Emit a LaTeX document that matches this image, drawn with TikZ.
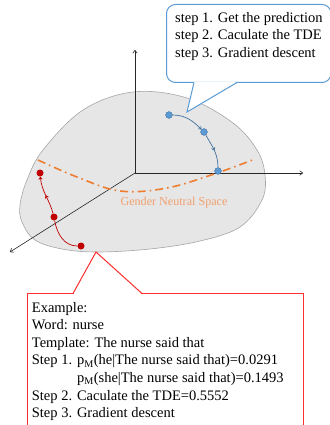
\documentclass[tikz,border=0pt]{standalone}
\usepackage{fontspec}
\setmainfont{Liberation Serif}
\usetikzlibrary{arrows.meta,decorations.markings}
\definecolor{blobfill}{RGB}{230,230,230}
\definecolor{blobedge}{RGB}{166,166,166}
\definecolor{orangeline}{RGB}{237,125,49}
\definecolor{orangetext}{RGB}{241,160,110}
\definecolor{bluept}{RGB}{91,155,213}
\definecolor{blueedge}{RGB}{65,113,156}
\definecolor{redpt}{RGB}{192,0,0}
\definecolor{redline}{RGB}{255,45,45}
\definecolor{blueline}{RGB}{91,155,213}
\begin{document}
\begin{tikzpicture}[x=1pt,y=-1pt,
  axisline/.style={line width=0.6pt, draw=black!85, -{To[length=3.5pt,width=5pt]}},
  bpt/.style={circle, fill=bluept, draw=blueedge, line width=0.4pt, inner sep=0pt, minimum size=6.8pt},
  rpt/.style={circle, fill=redpt, inner sep=0pt, minimum size=7pt},
  bflow/.style={draw=blueedge, line width=0.7pt},
  rflow/.style={draw=redpt, line width=0.7pt},
  midarrow/.style={postaction={decorate}, decoration={markings, mark=at position 0.5 with {\arrow{#1}}}},
  calltext/.style={font=\fontsize{14.5}{17.6}\selectfont, align=left, inner sep=0pt},
  bluecall/.style={draw=blueline, line width=1pt},
  redcall/.style={draw=redline, line width=1pt},
]
\useasboundingbox (0,0) rectangle (329,425);

% blob
\draw[fill=blobfill, draw=blobedge, line width=0.6pt] plot[smooth cycle, tension=0.6] coordinates {
  (133,92) (187,98) (233,123) (257,150) (265,175) (262,200) (240,227) (200,241)
  (150,249) (97,252) (62,249) (35,240) (22,222) (20,205) (27,180) (43,150) (83,110)};

% axes
\coordinate (O) at (135,173);
\coordinate (ay) at (135,50);
\coordinate (ax) at (303,173);
\coordinate (az) at (10,252);
\draw[axisline] (O) -- (ay);
\draw[axisline] (O) -- (ax);
\draw[axisline] (O) -- (az);

% gender neutral curve
\draw[orangeline, line width=1.6pt, dash pattern=on 8pt off 4pt on 1.6pt off 4pt]
  plot[smooth, tension=0.6] coordinates {(38,160) (77,177) (120,191) (167,188) (217,173) (255,159)};
\node[text=orangetext, font=\fontsize{12.1}{14}\selectfont] (gns) at (174,203) {Gender Neutral Space};

% blue points
\node[bpt] (b1) at (169,115) {};
\node[bpt] (b2) at (204,132) {};
\node[bpt] (b3) at (218,171) {};
\draw[bflow, -{To[length=3pt,width=4pt]}] (b1) to[out=0, in=135] (b2);
\draw[bflow, midarrow={To[length=3pt,width=4pt]}] (b2) to[out=-60, in=90] (b3);

% red points
\node[rpt] (r1) at (40,173) {};
\node[rpt] (r2) at (54,217) {};
\node[rpt] (r3) at (81,246) {};
\draw[rflow] (r3) to[out=180, in=-80] (r2);
\draw[rflow, -{To[length=3pt,width=4pt]}, midarrow={To[length=3pt,width=4pt]}] (r2) to[out=105, in=-85] (r1);

% top callout
\fill[white] (166.5,4.5) [rounded corners=9pt] rectangle (331,82.5);
\draw[bluecall, rounded corners=9pt] (166.5,4.5) rectangle (331,82.5);
\fill[white] (194.3,81.8) -- (236.8,81.8) -- (187,112) -- cycle;
\draw[bluecall] (194,82.5) -- (187,112) -- (237,82.5);
\node[calltext, anchor=north west] (steps) at (175,11.8) {step 1. Get the prediction\\step 2. Caculate the TDE\\step 3. Gradient descent};

% bottom callout
\fill[white] (27.5,293.5) rectangle (303.5,440);
\draw[redcall] (27.5,440) -- (27.5,293.5) -- (303.5,293.5) -- (303.5,440);
\fill[white] (73.6,294.2) -- (141.6,294.2) -- (96,252) -- cycle;
\draw[redcall] (73,293.5) -- (96,252) -- (142,293.5);
\node[calltext, anchor=north west] (example) at (31.7,301.8) {Example:\\Word: nurse\\Template: The nurse said that\\Step 1. p\textsubscript{M}(he|The nurse said that)=0.0291\\\phantom{Step 1. }p\textsubscript{M}(she|The nurse said that)=0.1493\\Step 2. Caculate the TDE=0.5552\\Step 3. Gradient descent};
\end{tikzpicture}
\end{document}
